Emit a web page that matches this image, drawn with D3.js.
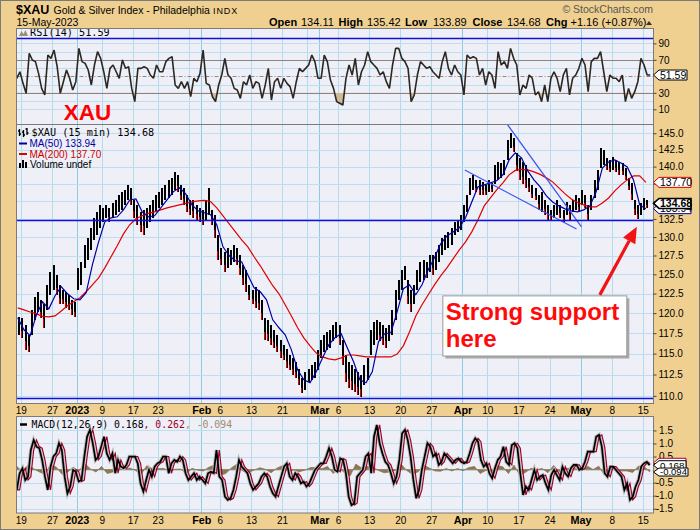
<!DOCTYPE html>
<html>
<head>
<meta charset="utf-8">
<script src="https://cdn.jsdelivr.net/npm/d3@7/dist/d3.min.js"></script>
<style>
html,body{margin:0;padding:0;background:#f0d090;}
svg{display:block;}
</style>
</head>
<body>
<svg id="chart" width="700" height="530"></svg>
<script>
// ---------- DATA ----------
// half-day price ranges (high / low), Dec 16 2022 pm .. May 15 2023
const hi = [119.5,119.4,118.5,117.3,120.4,122.0,122.7,121.7,121.1,123.6,
125.3,126.3,124.9,123.6,123.0,122.7,122.3,121.7,121.4,125.8,
126.6,128.9,129.9,131.3,132.7,133.5,134.5,134.1,134.5,134.1,
134.7,135.2,135.9,136.3,136.6,137.3,136.9,135.2,134.5,133.5,
133.8,134.1,134.5,135.2,135.9,136.3,136.9,137.3,138.0,138.4,
139.2,138.8,137.3,136.9,135.9,135.2,135.2,134.5,134.1,133.8,
135.2,136.9,133.8,133.1,130.3,128.5,128.0,128.5,128.3,128.9,
128.5,127.6,126.3,125.6,123.6,123.0,123.3,123.0,121.7,119.4,
119.2,118.5,117.9,117.3,116.7,116.1,115.5,114.8,114.5,114.0,
113.1,112.1,112.8,113.1,113.6,114.0,115.4,116.7,117.3,117.7,
117.9,118.5,118.9,118.5,116.7,114.8,114.0,113.6,113.1,112.8,
112.5,113.6,114.5,117.9,118.9,119.2,118.9,118.5,118.1,118.5,
120.4,123.0,124.3,125.6,126.1,124.3,123.0,123.6,125.6,126.6,
126.9,126.6,127.6,127.6,128.0,128.9,129.9,130.3,130.7,131.3,
132.1,132.4,133.1,134.5,135.9,138.4,138.8,138.0,138.0,137.8,
137.3,138.0,137.6,140.2,140.7,140.5,141.0,144.0,145.0,144.3,
142.0,141.3,140.7,140.2,138.4,137.3,136.9,135.9,136.3,135.2,
134.5,133.8,134.5,135.2,134.5,133.8,134.9,134.5,135.2,135.9,
135.5,136.6,135.9,134.5,135.9,138.0,139.5,142.8,142.5,141.3,
141.0,141.4,141.0,140.7,140.5,139.8,138.4,137.6,135.2,134.5,
134.7,135.5,135.2];
const lo = [117.3,116.9,115.4,115.2,117.3,119.2,120.1,119.4,118.2,120.4,
122.3,123.0,122.3,121.1,121.1,120.7,120.4,119.8,119.5,123.0,
123.6,125.8,126.9,128.3,129.6,130.3,131.3,132.1,132.7,132.1,
132.7,133.1,133.5,133.8,134.5,135.2,134.5,132.7,131.7,130.7,
130.3,131.3,132.1,132.7,133.5,134.1,134.5,135.2,135.4,135.9,
136.6,136.3,135.2,134.5,133.5,133.1,132.7,132.4,132.1,131.7,
132.4,133.1,131.7,129.9,126.9,126.3,125.3,125.8,126.3,126.6,
126.3,124.9,123.6,122.7,121.7,121.1,120.7,120.4,119.2,116.7,
116.5,116.1,115.7,115.2,114.5,114.2,113.3,113.0,112.5,112.1,
111.3,110.3,110.7,111.6,111.9,112.1,113.0,114.5,115.2,115.4,
115.7,116.5,116.9,116.1,113.6,111.6,110.9,110.7,110.5,110.1,
109.9,111.3,111.9,114.8,116.1,116.7,116.5,116.1,115.7,116.5,
117.3,119.2,121.7,123.0,124.3,121.1,120.1,121.1,123.0,124.0,
124.3,124.5,125.3,124.9,125.6,126.6,127.6,128.3,128.5,128.9,
130.3,130.7,131.0,132.1,133.5,135.9,136.6,136.3,135.9,135.9,
135.9,136.3,136.3,137.4,138.1,138.4,138.8,141.0,142.8,142.2,
139.3,138.1,137.4,136.9,136.3,135.4,135.2,133.8,133.5,133.1,
132.4,132.4,132.7,133.1,132.7,132.1,133.1,132.4,133.5,133.8,
133.5,134.5,134.1,132.4,133.8,135.4,136.6,139.8,140.2,139.5,
139.2,139.5,139.2,138.8,138.8,138.1,136.6,135.2,133.1,132.5,
133.1,133.8,134.1];
// moving averages, one value per trading day
const ma50 = [119.41,117.92,117.18,119.78,121.44,120.54,122.22,123.38,122.47,121.83,
121.70,122.60,126.26,129.34,132.10,132.66,132.80,133.77,135.17,135.32,
133.50,132.80,132.94,134.05,135.17,136.33,136.91,136.04,134.47,133.64,
133.36,133.08,131.69,128.67,127.47,126.80,126.66,124.92,123.25,122.73,
121.70,119.16,118.17,117.30,115.45,113.06,111.88,111.52,112.82,114.48,
116.06,116.93,117.43,115.69,114.01,111.88,111.52,112.82,116.44,117.43,
117.55,120.15,123.12,123.63,122.35,123.63,125.59,127.20,129.08,130.15,
130.71,131.27,132.66,134.89,137.05,137.34,137.63,137.92,138.79,140.99,
142.04,141.29,139.36,138.06,137.05,135.75,134.89,134.33,133.91,133.64,
133.50,133.77,134.33,136.33,139.80,140.69,140.99,140.54,139.94,138.06,
134.47,133.94];
const ma200 = [120.67,120.41,120.15,119.90,119.59,119.53,119.65,120.28,120.93,121.44,
121.96,122.73,123.63,124.54,125.86,127.33,128.81,130.43,131.69,132.52,
132.94,133.29,133.50,133.77,134.05,134.26,134.47,134.68,134.89,135.03,
135.10,134.96,134.05,132.94,131.82,130.71,129.61,128.67,127.33,126.13,
124.79,123.51,122.47,121.06,119.65,118.17,116.93,115.94,115.07,114.60,
114.36,114.24,114.48,114.83,114.83,114.72,114.60,114.60,114.60,114.60,
114.60,114.95,115.94,117.67,119.65,121.06,122.35,123.63,124.79,125.86,
127.06,128.27,129.34,130.71,132.38,134.33,135.46,136.62,137.63,138.79,
139.44,139.58,139.51,139.22,138.86,138.35,137.77,136.91,136.04,135.32,
134.82,134.47,134.19,134.19,134.75,135.46,136.47,137.34,138.06,138.64,
138.64,137.70];
const rsi = [47.6,55.6,41.5,29.4,77.9,69.8,67.8,53.6,35.4,27.4,
75.8,71.8,81.9,61.7,29.4,43.5,57.7,47.6,33.4,43.5,
83.9,67.8,65.7,57.7,39.5,63.7,79.9,71.8,55.6,35.4,
59.7,63.7,55.6,47.6,69.8,59.7,61.7,35.4,19.3,59.7,
59.7,61.7,59.7,51.6,47.6,63.7,55.6,55.6,67.8,71.8,
73.8,39.5,35.4,43.5,35.4,43.5,25.3,47.6,43.5,53.6,
81.9,41.5,39.5,25.3,19.3,39.5,51.6,71.8,51.6,47.6,
35.4,33.4,23.3,43.5,39.5,51.6,35.4,43.5,41.5,23.3,
39.5,59.7,21.3,43.5,47.6,35.4,47.6,41.5,37.5,23.3,
43.5,59.7,55.6,59.7,63.7,75.8,67.8,47.6,47.6,75.8,
67.8,45.5,35.4,19.3,17.3,
15.2,47.6,63.7,51.6,71.8,39.5,55.6,63.7,79.9,67.8,
63.7,59.7,51.6,55.6,43.5,35.4,63.7,83.9,83.9,71.8,
67.8,59.7,19.3,27.4,51.6,67.8,63.7,59.7,61.7,55.6,
51.6,47.6,67.8,79.9,59.7,51.6,63.7,55.6,51.6,27.4,
75.8,71.8,73.8,71.8,51.6,59.7,39.5,55.6,51.6,35.4,
79.9,63.7,67.8,59.7,83.9,71.8,63.7,27.4,39.5,35.4,
51.6,47.6,27.4,31.4,19.3,39.5,19.3,47.6,55.6,47.6,
31.4,51.6,59.7,27.4,47.6,51.6,59.7,71.8,63.7,31.4,
67.8,71.8,71.8,79.9,55.6,31.4,51.6,47.6,47.6,43.5,
51.6,19.3,35.4,23.3,31.4,43.5,71.8,63.7,51.6,51.59];
const macd = [-0.78,-0.14,0.05,-0.40,-0.27,0.75,1.13,0.88,0.82,0.37,
-0.27,-0.78,0.11,0.50,0.62,1.01,0.75,-0.27,-0.91,-0.65,
-0.01,-0.08,-0.46,-0.40,0.50,1.26,1.52,1.01,0.37,0.50,
0.88,1.26,0.62,0.37,0.62,-0.14,0.37,0.11,0.05,0.18,
0.50,0.50,0.50,0.24,-0.53,-0.84,-0.40,-0.01,-0.27,0.11,
0.24,0.30,0.50,0.50,-0.14,0.24,0.37,0.30,0.50,0.37,
-0.14,-0.40,-0.27,-0.14,-0.40,-0.27,-0.40,-0.53,-0.14,-0.08,
-0.14,0.75,-0.27,-0.40,-1.04,-1.16,-1.10,-0.78,-0.27,0.37,
0.11,-0.01,-0.14,-0.53,-0.78,-0.65,-0.53,-0.27,-0.14,-0.27,
-0.65,-0.91,-1.04,-0.65,-0.27,0.11,0.24,-0.27,-0.40,-0.14,
-0.27,-0.53,-0.46,-0.65,-0.53,-0.27,-0.01,0.11,0.24,0.24,
0.50,0.82,0.50,-0.01,-0.08,0.43,0.37,-0.14,-1.04,-1.36,
-1.29,
-0.27,-0.14,-0.01,0.50,0.62,-0.14,1.26,1.71,1.01,0.62,
0.30,0.18,-0.14,-0.53,-0.27,0.37,1.39,1.52,1.13,0.50,
-0.40,-1.10,-0.78,-0.01,0.50,1.01,0.88,0.50,0.62,0.18,
0.30,0.62,0.50,0.37,0.24,0.37,0.43,0.30,0.24,0.30,
0.62,1.01,1.20,1.07,0.37,0.11,0.24,-0.14,-0.33,0.05,
0.37,0.50,0.88,0.30,0.18,0.94,1.01,0.82,-0.14,-0.97,
-0.65,-0.78,-0.40,-0.01,-0.40,-0.27,-0.21,-0.53,-0.78,-0.21,
-0.01,-0.21,-0.40,0.11,-0.14,-0.27,0.05,0.18,0.18,-0.01,
0.05,0.30,0.69,0.69,0.69,1.26,1.33,0.88,-0.14,-0.27,
0.11,0.11,-0.01,-0.14,-0.27,-0.78,-0.53,-1.16,-1.04,-0.65,
-0.40,0.11,0.24,0.30,0.17];
const signal = [-0.78,-0.78,-0.14,0.05,-0.40,-0.27,0.75,1.13,0.88,0.82,
0.37,-0.27,-0.78,0.11,0.50,0.62,1.01,0.75,-0.27,-0.91,
-0.65,-0.01,-0.08,-0.46,-0.40,0.50,1.26,1.52,1.01,0.37,
0.50,0.88,1.26,0.62,0.37,0.62,-0.14,0.37,0.11,0.05,
0.18,0.50,0.50,0.50,0.24,-0.53,-0.84,-0.40,-0.01,-0.27,
0.11,0.24,0.30,0.50,0.50,-0.14,0.24,0.37,0.30,0.50,
0.37,-0.14,-0.40,-0.27,-0.14,-0.40,-0.27,-0.40,-0.53,-0.14,
-0.08,-0.14,0.75,-0.27,-0.40,-1.04,-1.16,-1.10,-0.78,-0.27,
0.37,0.11,-0.01,-0.14,-0.53,-0.78,-0.65,-0.53,-0.27,-0.14,
-0.27,-0.65,-0.91,-1.04,-0.65,-0.27,0.11,0.24,-0.27,-0.40,
-0.14,-0.27,-0.53,-0.46,-0.65,-0.53,-0.27,-0.01,0.11,0.24,
0.24,0.50,0.82,0.50,-0.01,-0.08,0.43,0.37,-0.14,-1.04,
-1.36,-1.29,
-0.27,-0.14,-0.01,0.50,0.62,-0.14,1.26,1.71,1.01,0.62,
0.30,0.18,-0.14,-0.53,-0.27,0.37,1.39,1.52,1.13,0.50,
-0.40,-1.10,-0.78,-0.01,0.50,1.01,0.88,0.50,0.62,0.18,
0.30,0.62,0.50,0.37,0.24,0.37,0.43,0.30,0.24,0.30,
0.62,1.01,1.20,1.07,0.37,0.11,0.24,-0.14,-0.33,0.05,
0.37,0.50,0.88,0.30,0.18,0.94,1.01,0.82,-0.14,-0.97,
-0.65,-0.78,-0.40,-0.01,-0.40,-0.27,-0.21,-0.53,-0.78,-0.21,
-0.01,-0.21,-0.40,0.11,-0.14,-0.27,0.05,0.18,0.18,-0.01,
0.05,0.30,0.69,0.69,0.69,1.26,1.33,0.88,-0.14,-0.27,
0.11,0.11,-0.01,-0.14,-0.27,-0.78,-0.53,-1.16,-1.04,-0.65,
-0.40,0.11,0.24,0.26];
const hist = [0.12,-0.09,0.18,0.03,-0.09,-0.18,0.21,0.09,-0.18,-0.09,
0.09,-0.06,0.24,0.03,-0.09,0.12,-0.15,-0.09,0.03,0.01,
0.06,-0.03,-0.18,0.15,0.03,0.04,0.04,-0.05,0.01,0.02,
-0.15,0.05,-0.02,-0.05,0.09,0.18,-0.21,-0.15,0.07,0.21,
-0.06,-0.11,-0.02,0.07,0.01,-0.12,0.05,0.15,-0.07,-0.02,
-0.08,-0.02,0.08,0.08,0.03,0.12,-0.15,0.07,-0.12,-0.24,
0.21,0.06,0.12,0.09,-0.03,-0.12,-0.09,-0.03,0.21,-0.03,
-0.18,-0.09,0.18,0.06,-0.05,-0.06,0.04,-0.05,0.04,-0.04,
0.08,0.12,-0.15,-0.03,-0.12,0.15,0.11,-0.15,0.17,-0.21,
-0.11,0.05,0.00,0.04,-0.12,0.16,-0.08,0.05,0.04,0.03,
-0.02,0.13,0.00,0.13,-0.21,0.06,-0.02,-0.05,-0.05,-0.11,
0.13,0.13,-0.09];
// date axis: trading-day index of each labelled day, plus grid days
const tickDays = [0,5,9,13,18,22,29,32,37,42,48,51,56,61,66,71,75,80,85,90,95,100];
const tickLabels = ["19","27","2023","9","17","23","Feb","6","13","21","Mar","6","13","20","27","Apr","10","17","24","May","8","15"];
const boldLabels = ["2023","Feb","Mar","Apr","May"];
const weekDays = [0,5,9,13,18,22,27,32,37,42,46,51,56,61,66,71,75,80,85,90,95,100];
const monthDays = [9,29,48,71,90];
const priceTicks = [110,112.5,115,117.5,120,122.5,125,127.5,130,132.5,135,137.5,140,142.5,145];
const hiddenPriceLabels = [135,137.5];
const rsiTicks = [10,30,70,90];
const macdTicks = [-1.5,-1,-0.5,0.5,1,1.5];
const quoteLabels = ["Open","High","Low","Close","Chg"];
const quoteValues = ["134.11","135.42","133.89","134.68","+1.16 (+0.87%)"];
const lastClose = 134.68, lastMa50 = 133.94, lastMa200 = 137.70, lastRsi = 51.59;
const lastMacd = [0.168, 0.262, -0.094];
// annotations drawn on the chart (trading-day index, price)
const trendLines = [[[71.38,139.5],[89.34,131.1]],[[78.18,146.4],[90.14,131.4]]];
const supportLevels = [132.35, 109.8];
const rsiMarkLevel = 96.1;
const noteBox = [[67.85,122.2],[97.43,114.71]];
const noteArrow = [[93.09,122.33],[99.04,131.41]];

// ---------- LAYOUT ----------
const svg = d3.select('#chart');
const F = 'Liberation Sans, Arial, sans-serif';
const MONO = 'DejaVu Sans Mono, monospace';
const L = 16.5, R = 653.5;
const P = {rsi:[28.5,124.5], main:[124.5,403.5], macd:[416.5,513]};
const x = d3.scaleLinear().domain([-0.7,101.72]).range([L,R]);
const yP = d3.scaleLog().domain([109.12,146.34]).range([P.main[1],P.main[0]]);
const yR = d3.scaleLinear().domain([-8.4,108]).range([P.rsi[1],P.rsi[0]]);
const yM = d3.scaleLinear().domain([-1.663,2.034]).range([P.macd[1],P.macd[0]]);
const px = v => Math.round(v)+0.5;

svg.append('rect').attr('width',700).attr('height',530).attr('fill','#f0d090');
const defs = svg.append('defs');
function clip(id,t,b){defs.append('clipPath').attr('id',id).append('rect').attr('x',L).attr('y',t).attr('width',R-L).attr('height',b-t);}
clip('cRsi',...P.rsi); clip('cMain',...P.main); clip('cMacd',...P.macd);
clip('cRsiLo',yR(30),P.rsi[1]);

function panelBase(key,id){
  const [t,b]=P[key];
  svg.append('rect').attr('x',L).attr('y',t).attr('width',R-L).attr('height',b-t).attr('fill','#efeff8');
  const g = svg.append('g').attr('clip-path',`url(#${id})`);
  g.selectAll(null).data(weekDays.filter(d=>!monthDays.includes(d))).join('line')
    .attr('x1',d=>px(x(d))).attr('x2',d=>px(x(d))).attr('y1',t).attr('y2',b).attr('stroke','#b2dbec');
  g.selectAll(null).data(monthDays).join('line')
    .attr('x1',d=>px(x(d))).attr('x2',d=>px(x(d))).attr('y1',t).attr('y2',b).attr('stroke','#8ccbe6');
  return g;
}
function hgrid(g,vals,yS,color,dash){
  g.selectAll(null).data(vals).join('line').attr('x1',L).attr('x2',R)
   .attr('y1',d=>px(yS(d))).attr('y2',d=>px(yS(d))).attr('stroke',color)
   .attr('stroke-dasharray',dash||null);
}

// ---- RSI panel ----
const gR = panelBase('rsi','cRsi');
hgrid(gR,[10,20,40,60,80,90],yR,'#bcdeee');
hgrid(gR,[30,70],yR,'#858585');
hgrid(gR,[50],yR,'#8a8a8a','4,2,1,2');
const rx = d3.scaleLinear().domain([0,rsi.length-1]).range([-0.65,101.2]);
gR.append('g').attr('clip-path','url(#cRsiLo)').append('path')
  .attr('d',d3.area().x((v,i)=>x(rx(i))).y0(yR(30)).y1(v=>yR(v))(rsi)).attr('fill','#cdbb96');
gR.append('path').attr('d',d3.line().x((v,i)=>x(rx(i))).y(v=>yR(v))(rsi))
  .attr('fill','none').attr('stroke','#2d2721').attr('stroke-width',1.6).attr('stroke-linejoin','bevel');
gR.append('line').attr('x1',L).attr('x2',R).attr('y1',px(yR(rsiMarkLevel))).attr('y2',px(yR(rsiMarkLevel)))
  .attr('stroke','#1010d0').attr('stroke-width',1.3);
gR.append('text').attr('x',x(6.9)).attr('y',P.rsi[1]-5).attr('font-family',F).attr('font-weight','bold')
  .attr('font-size',22.5).attr('fill','#ff0000').text('XAU');
svg.append('path').attr('d','M19,36 L21.5,31 L23.5,34 L25.5,30 L28,36 Z').attr('fill','#9a8f7a');
svg.append('text').attr('x',30).attr('y',36).attr('font-family',MONO).attr('font-size',10.2).text('RSI(14) '+lastRsi.toFixed(2));

// ---- main panel ----
const gM = panelBase('main','cMain');
hgrid(gM,priceTicks,yP,'#bcdeee');
const bars = hi.map((h,i)=>({d:-0.25+0.5*i,h,l:lo[i],dn:i>0&&(h+lo[i])<(hi[i-1]+lo[i-1])}));
const gBars = gM.append('g').attr('shape-rendering','crispEdges');
gBars.selectAll(null).data(bars).join('rect')
  .attr('x',b=>x(b.d)-1).attr('width',2).attr('y',b=>yP(b.h))
  .attr('height',b=>Math.max(1,yP(b.l)-yP(b.h))).attr('fill','#000');
gBars.selectAll(null).data(bars.filter(b=>b.dn)).join('rect')
  .attr('x',b=>x(b.d)-1).attr('width',1)
  .attr('y',b=>yP(b.l)-0.35*(yP(b.l)-yP(b.h))).attr('height',b=>0.35*(yP(b.l)-yP(b.h)))
  .attr('fill','#e00000');
const maLine = d3.line().x((v,j)=>x(j-0.5)).y(v=>yP(v));
gM.append('path').attr('d',maLine(ma200)).attr('fill','none').attr('stroke','#e00000').attr('stroke-width',1.2);
gM.append('path').attr('d',maLine(ma50)).attr('fill','none').attr('stroke','#0000a0').attr('stroke-width',1.2);
trendLines.forEach(t=>gM.append('line').attr('x1',x(t[0][0])).attr('y1',yP(t[0][1])).attr('x2',x(t[1][0])).attr('y2',yP(t[1][1]))
  .attr('stroke','#3a55f0').attr('stroke-width',1.2));
supportLevels.forEach(p=>gM.append('line').attr('x1',L).attr('x2',R).attr('y1',px(yP(p))).attr('y2',px(yP(p)))
  .attr('stroke','#1010e0').attr('stroke-width',1.3));
const lg = svg.append('g');
lg.append('path').attr('d','M19.5,129 V136 M18,131 H19.5 M19.5,134 H21 M23.5,130 V137 M22,132 H23.5 M23.5,135 H25 M27,128 V135 M25.5,129 H27 M27,133 H28.5')
  .attr('stroke','#000').attr('stroke-width',1.3).attr('fill','none');
lg.append('text').attr('x',31.5).attr('y',136).attr('font-family',MONO).attr('font-size',10.2).text('$XAU (15 min) '+lastClose.toFixed(2));
lg.append('line').attr('x1',19).attr('x2',27).attr('y1',143.5).attr('y2',143.5).attr('stroke','#0000a0').attr('stroke-width',2);
lg.append('text').attr('x',29.5).attr('y',147).attr('font-family',F).attr('font-size',10).attr('fill','#0000a0').text('MA(50) '+lastMa50.toFixed(2));
lg.append('line').attr('x1',19).attr('x2',27).attr('y1',154).attr('y2',154).attr('stroke','#e00000').attr('stroke-width',2);
lg.append('text').attr('x',29.5).attr('y',157.5).attr('font-family',F).attr('font-size',10).attr('fill','#cc0000').text('MA(200) '+lastMa200.toFixed(2));
lg.append('path').attr('d','M19,168 v-5 h2 v5 M22,168 v-8 h2 v8 M25,168 v-6 h2 v6').attr('fill','#000');
lg.append('text').attr('x',30).attr('y',168).attr('font-family',F).attr('font-size',10).text('Volume undef');
const bx0=x(noteBox[0][0]), by0=yP(noteBox[0][1]), bx1=x(noteBox[1][0]), by1=yP(noteBox[1][1]);
svg.append('rect').attr('x',bx0+2.5).attr('y',by0+2.5).attr('width',bx1-bx0).attr('height',by1-by0).attr('fill','#a8a8a8');
svg.append('rect').attr('x',bx0).attr('y',by0).attr('width',bx1-bx0).attr('height',by1-by0).attr('fill','#fff').attr('stroke','#9a9a9a');
['Strong support','here'].forEach((t,i)=>svg.append('text').attr('x',bx0+3).attr('y',by0+24.5+i*27)
  .attr('font-family',F).attr('font-weight','bold').attr('font-size',24).attr('fill','#ff0a0a').text(t));
{
  const ax0=x(noteArrow[0][0]), ay0=yP(noteArrow[0][1]), ax1=x(noteArrow[1][0]), ay1=yP(noteArrow[1][1]);
  const dx=ax1-ax0, dy=ay1-ay0, len=Math.hypot(dx,dy), ux=dx/len, uy=dy/len, hl=16, hw=7;
  const bxh=ax1-ux*hl, byh=ay1-uy*hl;
  svg.append('line').attr('x1',ax0).attr('y1',ay0).attr('x2',bxh).attr('y2',byh).attr('stroke','#f01414').attr('stroke-width',3.2);
  svg.append('path').attr('d',`M${ax1},${ay1} L${bxh-uy*hw},${byh+ux*hw} L${bxh+uy*hw},${byh-ux*hw} Z`).attr('fill','#f01414');
}

// ---- MACD panel ----
const gD = panelBase('macd','cMacd');
hgrid(gD,[-1.5,-1,-0.5,0,0.5,1,1.5],yM,'#bcdeee');
const mx = d3.scaleLinear().domain([0,macd.length-1]).range([-0.65,101.1]);
const hx = d3.scaleLinear().domain([0,hist.length-1]).range([-0.65,101.1]);
gD.append('path').attr('d',d3.area().x((v,i)=>x(hx(i))).y0(yM(0)).y1(v=>yM(v))(hist))
  .attr('fill','#8c7853').attr('stroke','#8c7853').attr('stroke-width',0.8);
const ml = d3.line().x((v,i)=>x(mx(i))).y(v=>yM(v));
gD.append('path').attr('d',ml(macd)).attr('fill','none').attr('stroke','#b8b8b8').attr('stroke-width',3.6);
gD.append('path').attr('d',ml(signal)).attr('fill','none').attr('stroke','#a0002a').attr('stroke-width',1.2);
gD.append('path').attr('d',ml(macd)).attr('fill','none').attr('stroke','#000').attr('stroke-width',1.7);
svg.append('line').attr('x1',20).attr('x2',27).attr('y1',424.5).attr('y2',424.5).attr('stroke','#000').attr('stroke-width',2.5);
{
  const t = svg.append('text').attr('x',31.5).attr('y',427.5).attr('font-family',MONO).attr('font-size',9.8);
  t.append('tspan').attr('fill','#000').text('MACD(12,26,9) '+lastMacd[0].toFixed(3));
  t.append('tspan').attr('fill','#a0002a').text(', '+lastMacd[1].toFixed(3));
  t.append('tspan').attr('fill','#a08c68').text(', '+lastMacd[2].toFixed(3));
}

Object.values(P).forEach(([t,b])=>svg.append('rect').attr('x',L).attr('y',t).attr('width',R-L).attr('height',b-t)
  .attr('fill','none').attr('stroke','#7b7b7b'));

// ---- axes ----
function dateAxis(yPos){
  const g = svg.append('g').attr('transform',`translate(0,${yPos})`)
    .call(d3.axisBottom(x).tickValues(tickDays).tickFormat((d,i)=>tickLabels[i]).tickSize(0));
  g.select('.domain').remove();
  g.selectAll('text').attr('y',10.5).attr('dy',0).attr('font-family',F).attr('font-size',10).attr('fill','#000')
    .each(function(d,i){ if(boldLabels.includes(tickLabels[i])) d3.select(this).attr('font-weight','bold').attr('font-size',10.8); });
}
dateAxis(P.main[1]); dateAxis(P.macd[1]);
function rightAxis(scale,vals,fmt,anchorEnd){
  const g = svg.append('g').attr('transform',`translate(${R},0)`)
    .call(d3.axisRight(scale).tickValues(vals).tickFormat(fmt).tickSize(3).tickPadding(2));
  g.select('.domain').remove();
  g.selectAll('line').attr('stroke','#444');
  g.selectAll('text').attr('font-family',F).attr('font-size',10).attr('fill','#000');
  if(anchorEnd) g.selectAll('text').attr('text-anchor','end').attr('x',19.5);
}
rightAxis(yP,priceTicks,d=>hiddenPriceLabels.includes(d)?'':d.toFixed(1));
rightAxis(yR,rsiTicks,d=>String(d));
rightAxis(yM,macdTicks,d=>d.toFixed(1),true);

function tag(yv,txt,stroke,w,opt){
  opt = opt||{};
  const h = opt.h||10;
  const g = svg.append('g');
  g.append('path').attr('d',`M${R},${yv} L${R+5.5},${yv-h/2} H${R+5.5+w} V${yv+h/2} H${R+5.5} Z`)
   .attr('fill','#fff').attr('stroke',stroke).attr('stroke-width',opt.sw||1);
  if(txt) g.append('text').attr('x',R+6.5).attr('y',yv+(opt.fs||10.5)*0.35).attr('font-family',F).attr('font-size',opt.fs||10.5)
   .attr('font-weight',opt.bold?'bold':'normal').attr('fill','#000').text(txt);
}
tag(yR(lastRsi),lastRsi.toFixed(2),'#000',28);
tag(yP(lastMa200),lastMa200.toFixed(2),'#d00000',32);
tag(yP(lastMa50),lastMa50.toFixed(2),'#0000a0',32);
tag(yP(lastClose),lastClose.toFixed(2),'#000',32,{bold:true,sw:1.6});
tag(yM(lastMacd[1]),null,'#a0002a',27,{h:9});
tag(yM(lastMacd[0]),lastMacd[0].toFixed(3),'#000',27,{h:9,fs:9.8});
tag(yM(lastMacd[2]),lastMacd[2].toFixed(3),'#000',29,{h:8,fs:9.5});

// ---- header ----
svg.append('text').attr('x',16).attr('y',13.5).attr('font-family',F).attr('font-weight','bold').attr('font-size',12.5).text('$XAU');
svg.append('text').attr('x',53.5).attr('y',13.5).attr('font-family',F).attr('font-size',10.5).text('Gold & Silver Index - Philadelphia');
svg.append('text').attr('x',213).attr('y',13.5).attr('font-family',F).attr('font-size',9).attr('letter-spacing',0.9).text('INDX');
svg.append('text').attr('x',16.5).attr('y',26).attr('font-family',F).attr('font-size',10.5).text('15-May-2023');
svg.append('text').attr('x',653).attr('y',12.5).attr('text-anchor','end').attr('font-family',F).attr('font-size',10.5).attr('fill','#555').text('\u00A9 StockCharts.com');
const qLabX=[269,338.5,405,472.5,546], qValX=[301,367,433,507,570.5];
quoteLabels.forEach((l,i)=>{
  svg.append('text').attr('x',qLabX[i]).attr('y',26).attr('font-family',F).attr('font-weight','bold').attr('font-size',11).text(l);
  svg.append('text').attr('x',qValX[i]).attr('y',26).attr('font-family',F).attr('font-size',11).text(quoteValues[i]);
});
svg.append('path').attr('d','M646,25 L649,21 L652,25 Z').attr('fill','#333');
svg.append('rect').attr('x',0.5).attr('y',0.5).attr('width',699).attr('height',529).attr('fill','none').attr('stroke','#7a7a7a');
</script>
</body>
</html>
